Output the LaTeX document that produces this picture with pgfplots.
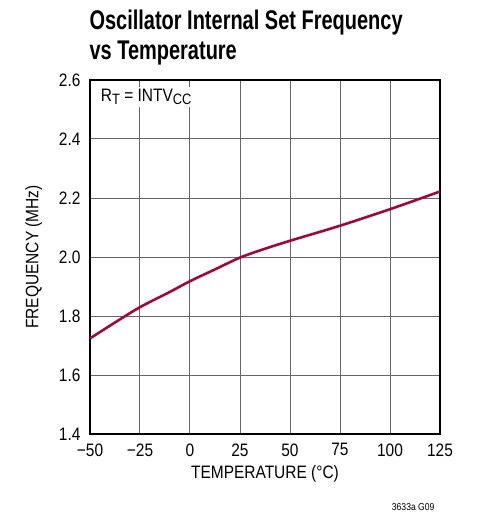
\documentclass[border=0pt]{standalone}
\usepackage{fontspec}
\setmainfont{Liberation Sans}[FakeStretch=0.86]
\newfontfamily\titlefont{Liberation Sans}[FakeStretch=0.74]
\usepackage{pgfplots}
\pgfplotsset{compat=1.18}
\definecolor{curve}{HTML}{9B0A3A}
\newcommand{\lbl}{\fontsize{18}{20}\selectfont}
\begin{document}
\begin{tikzpicture}[x=1pt,y=1pt]
\useasboundingbox (-90,-83) rectangle (387,434);
\begin{axis}[
  at={(0,0)}, anchor=south west,
  scale only axis, width=350pt, height=354pt,
  xmin=-50, xmax=125, ymin=1.4, ymax=2.6,
  xtick={-50,-25,0,25,50,75,100,125},
  xticklabels={−50,−25,0,25,50,75,100,125},
  ytick={1.4,1.6,1.8,2.0,2.2,2.4,2.6},
  yticklabels={1.4,1.6,1.8,2.0,2.2,2.4,2.6},
  grid=major, major grid style={gray!80!black, line width=1pt},
  major tick length=0pt,
  axis line style={black, line width=1.3pt},
  tick label style={font=\lbl},
  xticklabel style={yshift=-6pt},
  yticklabel style={xshift=-6pt},
  xlabel={TEMPERATURE (°C)}, ylabel={FREQUENCY (MHz)},
  label style={font=\lbl},
  xlabel style={yshift=-2pt},
  ylabel style={yshift=10pt},
]
\addplot[curve, line width=2.6pt, smooth] coordinates {
  (-50,1.724) (-37.5,1.778) (-25,1.830) (-10,1.882) (0,1.918)
  (12.5,1.958) (25,1.998) (37.5,2.028) (50,2.055) (75,2.106)
  (100,2.162) (125,2.222)};
\node[anchor=north west, fill=white, inner sep=2pt, font=\lbl]
  at (rel axis cs:0.025,0.98) {R\raisebox{-0.3ex}{\fontsize{15}{16}\selectfont T} = INTV\raisebox{-0.3ex}{\fontsize{15}{16}\selectfont CC}};
\end{axis}
\node[anchor=north west, align=left, font=\titlefont\bfseries\fontsize{27}{30}\selectfont]
  at (-4,428) {Oscillator Internal Set Frequency\\vs Temperature};
\node[anchor=south east, font=\fontsize{10}{11}\selectfont] at (348,-80) {3633a G09};
\end{tikzpicture}
\end{document}
